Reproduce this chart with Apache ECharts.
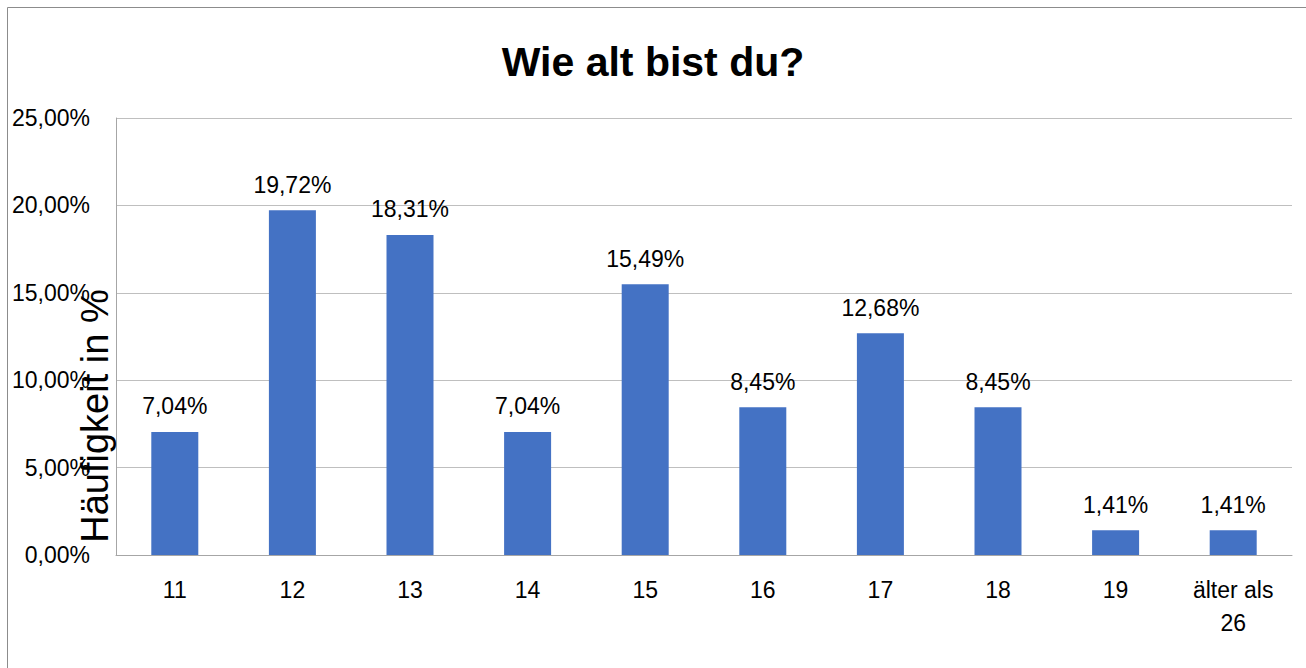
<!DOCTYPE html>
<html>
<head>
<meta charset="utf-8">
<script src="https://cdn.jsdelivr.net/npm/echarts@6/dist/echarts.min.js"></script>
<style>
html,body{margin:0;padding:0;background:#fff;}
#c{width:1306px;height:668px;}
</style>
</head>
<body>
<div id="c"></div>
<script>
const titleText = 'Wie alt bist du?';
const yAxisTitle = 'Häufigkeit in %';
const categories = ['11', '12', '13', '14', '15', '16', '17', '18', '19', 'älter als\n26'];
const values = [7.04, 19.72, 18.31, 7.04, 15.49, 8.45, 12.68, 8.45, 1.41, 1.41];
const yTicks = [0, 5, 10, 15, 20, 25];

const fmt = v => v.toFixed(2).replace('.', ',') + '%';
const FONT = '"Liberation Sans", Arial, sans-serif';

const chart = echarts.init(document.getElementById('c'), null, {renderer: 'svg'});
chart.setOption({
  animation: false,
  backgroundColor: '#fff',
  title: {
    text: titleText,
    left: 'center',
    top: 36,
    textStyle: {fontFamily: FONT, fontSize: 41, fontWeight: 'bold', color: '#000'}
  },
  grid: {left: 116, right: 14, top: 118, bottom: 113, containLabel: false},
  xAxis: {
    type: 'category',
    data: categories,
    axisLine: {show: true, lineStyle: {color: '#a6a6a6', width: 1}},
    axisTick: {show: false},
    axisLabel: {
      interval: 0, margin: 18, color: '#000',
      fontFamily: FONT, fontSize: 23, lineHeight: 33
    }
  },
  yAxis: {
    type: 'value',
    min: yTicks[0],
    max: yTicks[yTicks.length - 1],
    interval: yTicks[1] - yTicks[0],
    axisLine: {show: true, lineStyle: {color: '#a6a6a6', width: 1}},
    axisTick: {show: false},
    splitLine: {show: true, lineStyle: {color: '#bfbfbf', width: 1}},
    axisLabel: {
      margin: 26, color: '#000', fontFamily: FONT, fontSize: 23,
      formatter: v => fmt(v)
    }
  },
  series: [{
    type: 'bar',
    data: values,
    barWidth: 47,
    itemStyle: {color: '#4472C4'},
    label: {
      show: true, position: 'top', distance: 14,
      color: '#000', fontFamily: FONT, fontSize: 23,
      formatter: p => fmt(p.value)
    }
  }],
  graphic: [
    {
      type: 'rect',
      shape: {x: 7.5, y: 7.5, width: 1320, height: 700},
      style: {fill: 'none', stroke: '#8c8c8c', lineWidth: 1},
      silent: true, z: -1
    },
    {
      type: 'text',
      x: 95, y: 416,
      rotation: Math.PI / 2,
      style: {
        text: yAxisTitle,
        fontFamily: FONT, fontSize: 38, fill: '#000',
        textAlign: 'center', textVerticalAlign: 'middle'
      },
      z: 10
    }
  ]
});
</script>
</body>
</html>
